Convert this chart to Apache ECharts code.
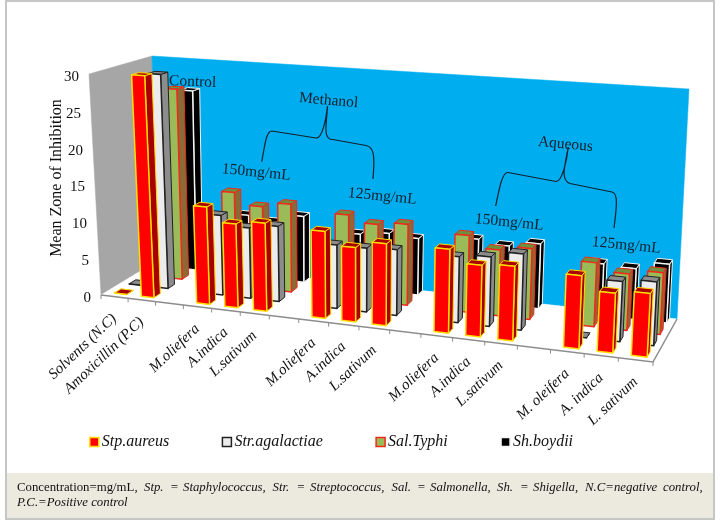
<!DOCTYPE html>
<html>
<head>
<meta charset="utf-8">
<title>Mean Zone of Inhibition</title>
<script src="https://cdn.jsdelivr.net/npm/echarts@6/dist/echarts.min.js"></script>
<style>
  html, body { margin: 0; padding: 0; background: #fff; }
  #main { width: 721px; height: 523px; }
</style>
</head>
<body>
<div id="main"></div>
<script>
// 18 slots on the category axis, blanks separate the groups
var categories = ['Solvents (N.C)', 'Amoxicillin (P.C)', '',
  'M.oliefera', 'A.indica', 'L.sativum', '',
  'M.oliefera', 'A.indica', 'L.sativum', '',
  'M.oliefera', 'A.indica', 'L.sativum', '',
  'M. oleifera', 'A. indica', 'L. sativum'];
var yTicks = [0, 5, 10, 15, 20, 25, 30];

var stpAureus     = [0, 30,   null, 13,   11.1, 11.6, null, 11.3, 9.6,  10.5, null, 10.6, 9,    9.3, null, 9,   7.3, 7.7];
var strAgalactiae = [0, 29.5, null, 10.8, 9.5,  10.1, null, 8.4,  8.4,  8.6,  null, 8.5,  8.9,  9.7, null, 0,   7.5, 7.9];
var salTyphi      = [0, 26.7, null, 12.9, 11.3, 12,   null, 11.3, 10.4, 10.8, null, 10.1, 8.6,  9.2, null, 8.2, 7.2, 7.8];
var shBoydii      = [0, 25.7, null, 8.6,  8,    9.2,  null, 7.5,  8,    7.7,  null, 8.4,  7.9,  8.6, null, 6.8, 6.6, 7.6];

var FONT = '"Liberation Serif", "Times New Roman", serif';

// corners of the 3D box as the picture shows them
var box = {
  f0: [101, 295], f1: [653, 362], b1: [677, 319], b0: [157, 261],
  tf0: [89, 74], tf1: [666, 112], tb1: [689, 89], tb0: [152, 56]
};

// curly brackets over the concentration labels
var braces = [
  'M261.7,161.7 C265,145 266,131 272,131 L316,138 C322,139 326,120 327.5,106 C327,120 323,136 330,139 L366,145.5 C374,147 375,155 373,179',
  'M495.7,206 C499,190 502,172 508,172.5 L556,181.5 C562,182 567,160 568.3,147 C565,165 560,180 570,183.5 L612,192 C618,193 617,205 614,228'
];

function lerp(a, b, t) {
  return [a[0] + (b[0] - a[0]) * t, a[1] + (b[1] - a[1]) * t];
}
// u along the category axis, v up the value axis, w into the depth
function project(u, v, w) {
  var k = 1.14;
  var t = u / (u + k * (1 - u));
  var low = lerp(lerp(box.f0, box.f1, t), lerp(box.b0, box.b1, t), w);
  var high = lerp(lerp(box.tf0, box.tf1, t), lerp(box.tb0, box.tb1, t), w);
  return lerp(low, high, v);
}

function uvFrom(params, api, i, val) {
  var p = api.coord([i, val]);
  var c = params.coordSys;
  return { u: (p[0] - c.x) / c.width, v: 1 - (p[1] - c.y) / c.height };
}

function poly(points, fill, stroke, lw) {
  return {
    type: 'polygon',
    shape: { points: points },
    style: { fill: fill, stroke: stroke, lineWidth: lw, lineJoin: 'round' }
  };
}

function barRenderer(row, look) {
  return function (params, api) {
    var i = api.value(0);
    var val = api.value(1);
    if (val == null || isNaN(val)) return null;
    var top = uvFrom(params, api, i, val);
    var slot = api.size([1, 0])[0] / params.coordSys.width;
    var u0 = top.u + slot * 0.04 - slot * 0.23;
    var u1 = u0 + slot * 0.46;
    var w0 = 0.09 + row * 0.265;
    var w1 = w0 + 0.12;
    var v = top.v;
    return {
      type: 'group',
      children: [
        poly([project(u1, 0, w0), project(u1, 0, w1), project(u1, v, w1), project(u1, v, w0)], look.side, look.border, 1),
        poly([project(u0, v, w0), project(u1, v, w0), project(u1, v, w1), project(u0, v, w1)], look.top, look.border, 1),
        poly([project(u0, 0, w0), project(u1, 0, w0), project(u1, v, w0), project(u0, v, w0)], look.front, look.border, 1.5)
      ]
    };
  };
}

function barSeries(name, values, row, look) {
  return {
    name: name,
    type: 'custom',
    z: 10 - row,
    silent: true,
    clip: false,
    itemStyle: { color: look.front, borderColor: look.border, borderWidth: 1.5 },
    data: values.map(function (v, i) { return [i, v]; }),
    encode: { x: 0, y: 1 },
    renderItem: barRenderer(row, look)
  };
}

var looks = {
  stp: { front: '#ff0000', side: '#a80000', top: '#a80000', border: '#ffdd00' },
  str: { front: '#ececec', side: '#8c8c8c', top: '#8c8c8c', border: '#222222' },
  sal: { front: '#9bbb59', side: '#8a6a35', top: '#6f8f3c', border: '#ee2a1c' },
  sh:  { front: '#000000', side: '#000000', top: '#000000', border: '#f4f4f4' }
};

// box walls, floor edges and tick marks
function wallsRenderer(params, api) {
  var kids = [
    poly([box.tf0, box.tb0, box.b0, box.f0], '#a6a6a6', '#a6a6a6', 0.5),
    poly([box.tb0, box.tb1, box.b1, box.b0], '#00aeef', '#00aeef', 0.5),
    poly([box.f0, box.f1, box.b1, box.b0], '#ffffff', '#ffffff', 0.5),
    { type: 'polyline', shape: { points: [box.f0, box.f1, box.b1] }, style: { fill: null, stroke: '#8c8c8c', lineWidth: 1.5 } }
  ];
  for (var i = 0; i <= categories.length; i++) {
    var p = project(i / categories.length, 0, 0);
    kids.push({ type: 'line', shape: { x1: p[0], y1: p[1], x2: p[0], y2: p[1] + 4 }, style: { stroke: '#8c8c8c', lineWidth: 1 } });
  }
  return { type: 'group', children: kids };
}

function braceRenderer(params, api) {
  return {
    type: 'path',
    shape: { pathData: braces[api.value(0)] },
    style: { fill: null, stroke: '#10202e', lineWidth: 1.2 }
  };
}

function xLabelRenderer(params, api) {
  var i = api.value(0);
  var name = categories[i];
  if (!name) return null;
  var pos = uvFrom(params, api, i, 0);
  var p = project(pos.u, 0, 0);
  return {
    type: 'text',
    x: p[0],
    y: p[1] + 20,
    rotation: 0.76,
    style: { text: name, font: 'italic 15px ' + FONT, fill: '#111', align: 'right', verticalAlign: 'middle' }
  };
}

function yLabelRenderer(params, api) {
  var val = api.value(1);
  var pos = uvFrom(params, api, 0, val);
  var p = project(0, pos.v, 0);
  return {
    type: 'text',
    x: p[0] - 10,
    y: p[1] + 3,
    style: { text: String(val), font: '15px ' + FONT, fill: '#111', align: 'right', verticalAlign: 'middle' }
  };
}

function note(text, x, y, rot) {
  return {
    type: 'text', x: x, y: y, rotation: rot, z: 30,
    style: { text: text, font: '15.5px ' + FONT, fill: '#10202e', align: 'left', verticalAlign: 'middle' }
  };
}
function word(text, x, y, italic) {
  return {
    type: 'text', x: x, y: y, z: 30,
    style: { text: text, font: (italic ? 'italic ' : '') + '12.8px ' + FONT, fill: '#111', align: 'left', verticalAlign: 'middle' }
  };
}

var captionWords = [
  ['Concentration=mg/mL,', 17, 0], ['Stp.', 144, 1], ['=', 170, 1], ['Staphylococcus,', 183, 1],
  ['Str.', 272.5, 1], ['=', 296.5, 1], ['Streptococcus,', 310, 1], ['Sal.', 391.5, 1], ['=', 417, 1],
  ['Salmonella,', 430, 1], ['Sh.', 497, 1], ['=', 520, 1], ['Shigella,', 533, 1],
  ['N.C=negative', 585, 1], ['control,', 663, 1]
];

var graphics = [
  { type: 'rect', z: -1, shape: { x: 6, y: 1, width: 708, height: 518 }, style: { fill: '#fff', stroke: '#c6c6c6', lineWidth: 2 } },
  { type: 'rect', z: -1, shape: { x: 7, y: 473, width: 706, height: 45 }, style: { fill: '#ece9df' } },
  { type: 'text', x: 57, y: 178, rotation: Math.PI / 2, z: 30,
    style: { text: 'Mean Zone of Inhibition', font: '16px ' + FONT, fill: '#111', align: 'center', verticalAlign: 'middle' } },
  note('Control', 169, 81, -0.04),
  note('Methanol', 299, 98, -0.09),
  note('150mg/mL', 222, 169, -0.1),
  note('125mg/mL', 348, 193, -0.1),
  note('Aqueous', 538, 142, -0.09),
  note('150mg/mL', 475, 219, -0.1),
  note('125mg/mL', 592, 242, -0.1),
  word('P.C.=Positive control', 17, 502.5, true)
];
captionWords.forEach(function (w) { graphics.push(word(w[0], w[1], 487.5, w[2])); });

var chart = echarts.init(document.getElementById('main'));
chart.setOption({
  animation: false,
  grid: { left: 0, right: 0, top: 0, bottom: 0 },
  xAxis: { type: 'category', data: categories, show: false },
  yAxis: { type: 'value', min: 0, max: 30, interval: 5, show: false, splitLine: { show: false } },
  legend: {
    left: 84,
    top: 429,
    itemWidth: 9,
    itemHeight: 9,
    itemGap: 52.5,
    icon: 'rect',
    textStyle: { fontFamily: FONT, fontStyle: 'italic', fontSize: 16, color: '#111', padding: [0, 0, 0, -2] },
    data: [
      { name: 'Stp.aureus', itemStyle: { color: looks.stp.front, borderColor: looks.stp.border, borderWidth: 1.5 } },
      { name: 'Str.agalactiae', itemStyle: { color: looks.str.front, borderColor: looks.str.border, borderWidth: 1.5 } },
      { name: 'Sal.Typhi', itemStyle: { color: looks.sal.front, borderColor: looks.sal.border, borderWidth: 1.5 } },
      { name: 'Sh.boydii', itemStyle: { color: looks.sh.front, borderColor: looks.sh.border, borderWidth: 1.5 } }
    ]
  },
  graphic: graphics,
  series: [
    { name: 'walls', type: 'custom', z: 1, silent: true, clip: false, data: [[0, 0]], renderItem: wallsRenderer },
    { name: 'braces', type: 'custom', z: 2, silent: true, clip: false, data: braces.map(function (b, i) { return [i, 0]; }), renderItem: braceRenderer },
    { name: 'xlabels', type: 'custom', z: 20, silent: true, clip: false, data: categories.map(function (c, i) { return [i, 0]; }), renderItem: xLabelRenderer },
    { name: 'ylabels', type: 'custom', z: 20, silent: true, clip: false, data: yTicks.map(function (t) { return [0, t]; }), renderItem: yLabelRenderer },
    barSeries('Sh.boydii', shBoydii, 3, looks.sh),
    barSeries('Sal.Typhi', salTyphi, 2, looks.sal),
    barSeries('Str.agalactiae', strAgalactiae, 1, looks.str),
    barSeries('Stp.aureus', stpAureus, 0, looks.stp)
  ]
});
</script>
</body>
</html>
